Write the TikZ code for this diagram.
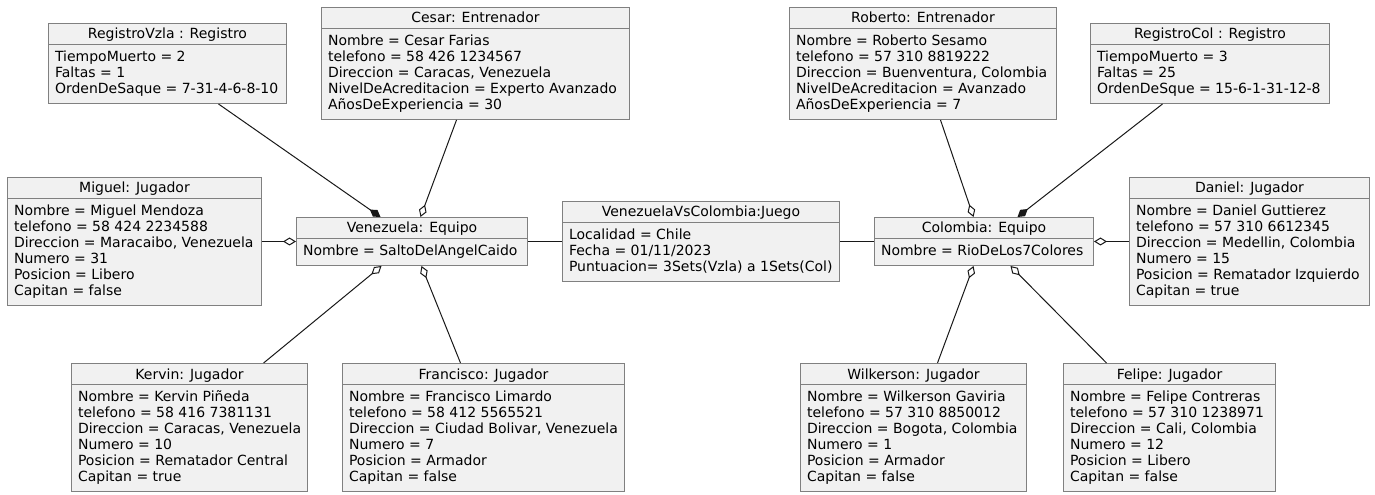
\documentclass[tikz,border=0pt]{standalone}
\usepackage{fontspec}
\setmainfont{DejaVu Sans}
\usetikzlibrary{arrows.meta,shapes.multipart,calc}
\definecolor{objfill}{HTML}{F1F1F1}
\definecolor{objline}{HTML}{808080}
\definecolor{linkcol}{HTML}{181818}
\newcommand{\objhead}[1]{\rule{0pt}{7.5pt}\smash{#1}}
\newcommand{\attrs}[1]{\begin{tabular}{@{}l@{}}#1\end{tabular}}
\tikzset{
  obj/.style={rectangle split, rectangle split parts=2,
    rectangle split part align={center,left},
    draw=objline, fill=objfill, anchor=north west,
    inner xsep=4.9pt, inner ysep=3.75pt, line width=0.75pt,
    font=\fontsize{10.5}{12}\selectfont},
  link/.style={draw=linkcol, line width=0.75pt},
  agg/.style={link, -{Diamond[open, length=9.75pt, width=6pt]}},
  comp/.style={link, -{Diamond[length=9.75pt, width=6pt]}}
}

\begin{document}
\begin{tikzpicture}[x=0.75pt, y=-0.75pt]
\useasboundingbox (0,0) rectangle (1375,495);

% Venezuela side
\node[obj, minimum width=178.5pt] (regvzla) at (48,23) {\objhead{RegistroVzla : Registro}\nodepart{two}\attrs{TiempoMuerto = 2\\ Faltas = 1\\ OrdenDeSaque = 7-31-4-6-8-10}};
\node[obj, minimum width=231pt] (cesar) at (321,7) {\objhead{Cesar: Entrenador}\nodepart{two}\attrs{Nombre = Cesar Farias\\ telefono = 58 426 1234567\\ Direccion = Caracas, Venezuela\\ NivelDeAcreditacion = Experto Avanzado\\ AñosDeExperiencia = 30}};
\node[obj, minimum width=190.5pt] (miguel) at (7,177) {\objhead{Miguel: Jugador}\nodepart{two}\attrs{Nombre = Miguel Mendoza\\ telefono = 58 424 2234588\\ Direccion = Maracaibo, Venezuela\\ Numero = 31\\ Posicion = Libero\\ Capitan = false}};
\node[obj, minimum width=173.25pt] (vzla) at (296,217) {\objhead{Venezuela: Equipo}\nodepart{two}\attrs{Nombre = SaltoDelAngelCaido}};
\node[obj, minimum width=177pt] (kervin) at (71,363) {\objhead{Kervin: Jugador}\nodepart{two}\attrs{Nombre = Kervin Piñeda\\ telefono = 58 416 7381131\\ Direccion = Caracas, Venezuela\\ Numero = 10\\ Posicion = Rematador Central\\ Capitan = true}};
\node[obj, minimum width=211.5pt] (francisco) at (342,363) {\objhead{Francisco: Jugador}\nodepart{two}\attrs{Nombre = Francisco Limardo\\ telefono = 58 412 5565521\\ Direccion = Ciudad Bolivar, Venezuela\\ Numero = 7\\ Posicion = Armador\\ Capitan = false}};

% the match
\node[obj, minimum width=207.75pt] (juego) at (562,201) {\objhead{VenezuelaVsColombia:Juego}\nodepart{two}\attrs{Localidad = Chile\\ Fecha = 01/11/2023\\ Puntuacion= 3Sets(Vzla) a 1Sets(Col)}};

% Colombia side
\node[obj, minimum width=200.25pt] (roberto) at (789,7) {\objhead{Roberto: Entrenador}\nodepart{two}\attrs{Nombre = Roberto Sesamo\\ telefono = 57 310 8819222\\ Direccion = Buenventura, Colombia\\ NivelDeAcreditacion = Avanzado\\ AñosDeExperiencia = 7}};
\node[obj, minimum width=179.25pt] (regcol) at (1090,23) {\objhead{RegistroCol : Registro}\nodepart{two}\attrs{TiempoMuerto = 3\\ Faltas = 25\\ OrdenDeSque = 15-6-1-31-12-8}};
\node[obj, minimum width=164.25pt] (col) at (874,217) {\objhead{Colombia: Equipo}\nodepart{two}\attrs{Nombre = RioDeLos7Colores}};
\node[obj, minimum width=180pt] (daniel) at (1129,177) {\objhead{Daniel: Jugador}\nodepart{two}\attrs{Nombre = Daniel Guttierez\\ telefono = 57 310 6612345\\ Direccion = Medellin, Colombia\\ Numero = 15\\ Posicion = Rematador Izquierdo\\ Capitan = true}};
\node[obj, minimum width=169.5pt] (wilkerson) at (800,363) {\objhead{Wilkerson: Jugador}\nodepart{two}\attrs{Nombre = Wilkerson Gaviria\\ telefono = 57 310 8850012\\ Direccion = Bogota, Colombia\\ Numero = 1\\ Posicion = Armador\\ Capitan = false}};
\node[obj, minimum width=159pt] (felipe) at (1063,363) {\objhead{Felipe: Jugador}\nodepart{two}\attrs{Nombre = Felipe Contreras\\ telefono = 57 310 1238971\\ Direccion = Cali, Colombia\\ Numero = 12\\ Posicion = Libero\\ Capitan = false}};

% links to Venezuela
\draw[comp] ($(regvzla.south)+(51,0)$) -- ($(vzla.north)+(-31.5,0)$);
\draw[agg] ($(cesar.south)+(-19,0)$) -- ($(vzla.north)+(8.5,0)$);
\draw[agg] (miguel.east) -- (vzla.west);
\draw[agg] ($(kervin.north)+(74,0)$) -- ($(vzla.south)+(-30.5,0)$);
\draw[agg] ($(francisco.north)+(-23,0)$) -- ($(vzla.south)+(9.5,0)$);

% match
\draw[link] (vzla.east) -- (juego.west);
\draw[link] (juego.east) -- (col.west);

% links to Colombia
\draw[agg] ($(roberto.south)+(17.5,0)$) -- ($(col.north)+(-10.5,0)$);
\draw[comp] ($(regcol.south)+(-47.5,0)$) -- ($(col.north)+(33.5,0)$);
\draw[agg] (daniel.west) -- (col.east);
\draw[agg] ($(wilkerson.north)+(24,0)$) -- ($(col.south)+(-10.5,0)$);
\draw[agg] ($(felipe.north)+(-63,0)$) -- ($(col.south)+(26.5,0)$);

\end{tikzpicture}
\end{document}
